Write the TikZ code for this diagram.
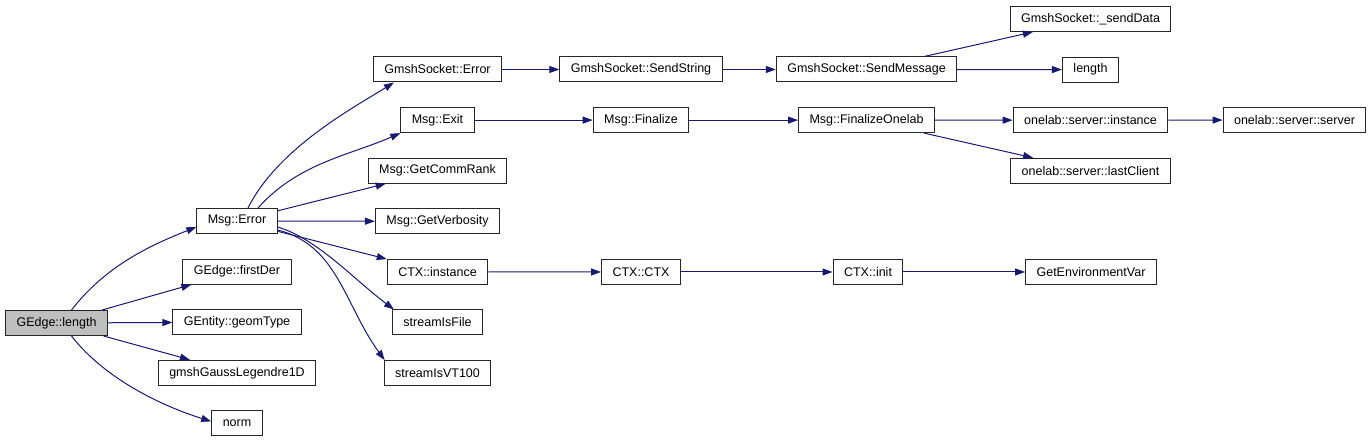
\documentclass[tikz,border=0pt]{standalone}
\usepackage{fontspec}
\setmainfont{Liberation Sans}
\usetikzlibrary{arrows.meta}
\definecolor{edgeblue}{HTML}{191970}
\tikzstyle{func} = [rectangle, minimum height=25pt, inner xsep=11pt, inner ysep=0pt, text centered, draw=black!85, line width=1pt, fill=white, font=\fontsize{12.5}{15}\selectfont]
\tikzstyle{root} = [func, fill=black!25]
\tikzstyle{arrow} = [edgeblue, line width=1pt, -{Triangle[length=10pt, width=7pt]}]

\begin{document}
\begin{tikzpicture} [x=1pt, y=1pt, node distance=50.6pt]
        \useasboundingbox (0,0) rectangle (1372,443);
        \node (glen) [root] at (56.5,120) {GEdge::length};

        \node (merr) [func] at (237,222) {Msg::Error};
        \node (firstder) [func, below of=merr] {GEdge::firstDer};
        \node (geomtype) [func, below of=firstder] {GEntity::geomType};
        \node (gauss) [func, below of=geomtype] {gmshGaussLegendre1D};
        \node (norm) [func, below of=gauss] {norm};

        \node (gserr) [func] at (437.5,373.5) {GmshSocket::Error};
        \node (mexit) [func, below of=gserr] {Msg::Exit};
        \node (commrank) [func, below of=mexit] {Msg::GetCommRank};
        \node (verbosity) [func, below of=commrank] {Msg::GetVerbosity};
        \node (ctxinst) [func, below of=verbosity] {CTX::instance};
        \node (isfile) [func, below of=ctxinst] {streamIsFile};
        \node (isvt) [func, below of=isfile] {streamIsVT100};

        \node (sendstr) [func] at (641,373.5) {GmshSocket::SendString};
        \node (finalize) [func, below of=sendstr] {Msg::Finalize};
        \node (ctxctx) [func] at (641,171) {CTX::CTX};

        \node (sendmsg) [func] at (866.5,373.5) {GmshSocket::SendMessage};
        \node (finonelab) [func, below of=sendmsg] {Msg::FinalizeOnelab};
        \node (ctxinit) [func] at (868,171) {CTX::init};

        \node (senddata) [func] at (1090.5,424) {GmshSocket::\_sendData};
        \node (length) [func, below of=senddata] {length};
        \node (srvinst) [func, below of=length] {onelab::server::instance};
        \node (lastclient) [func, below of=srvinst] {onelab::server::lastClient};
        \node (getenv) [func] at (1091,171) {GetEnvironmentVar};
        \node (srvserver) [func] at (1294.5,323) {onelab::server::server};

        % calls from GEdge::length
        \draw[arrow] ([xshift=15pt]glen.north) .. controls +(35,45) and +(-45,-18) .. ([yshift=-6pt]merr.west);
        \draw[arrow] (glen) -- (firstder);
        \draw[arrow] (glen) -- (geomtype);
        \draw[arrow] (glen) -- (gauss);
        \draw[arrow] ([xshift=15pt]glen.south) .. controls +(35,-45) and +(-45,14) .. ([yshift=2pt]norm.west);

        % calls from Msg::Error
        \draw[arrow] ([xshift=11pt]merr.north) .. controls +(30,60) and +(-40,-25) .. ([xshift=21pt]gserr.south west);
        \draw[arrow] ([xshift=21pt]merr.north) .. controls +(40,45) and +(-50,-22) .. (mexit.south west);
        \draw[arrow] (merr) -- (commrank);
        \draw[arrow] (merr) -- (verbosity);
        \draw[arrow] (merr) -- (ctxinst);
        \draw[arrow] ([yshift=-6pt]merr.east) .. controls +(40,-12) and +(-40,30) .. ([xshift=2pt]isfile.north west);
        \draw[arrow] ([yshift=-9pt]merr.east) .. controls +(60,-15) and +(-40,55) .. ([xshift=1pt]isvt.north west);

        \draw[arrow] (gserr) -- (sendstr);
        \draw[arrow] (mexit) -- (finalize);
        \draw[arrow] (ctxinst) -- (ctxctx);
        \draw[arrow] (sendstr) -- (sendmsg);
        \draw[arrow] (finalize) -- (finonelab);
        \draw[arrow] (ctxctx) -- (ctxinit);
        \draw[arrow] (sendmsg) -- (senddata);
        \draw[arrow] (sendmsg) -- (length);
        \draw[arrow] (finonelab) -- (srvinst);
        \draw[arrow] (finonelab) -- (lastclient);
        \draw[arrow] (ctxinit) -- (getenv);
        \draw[arrow] (srvinst) -- (srvserver);
    \end{tikzpicture}
\end{document}
